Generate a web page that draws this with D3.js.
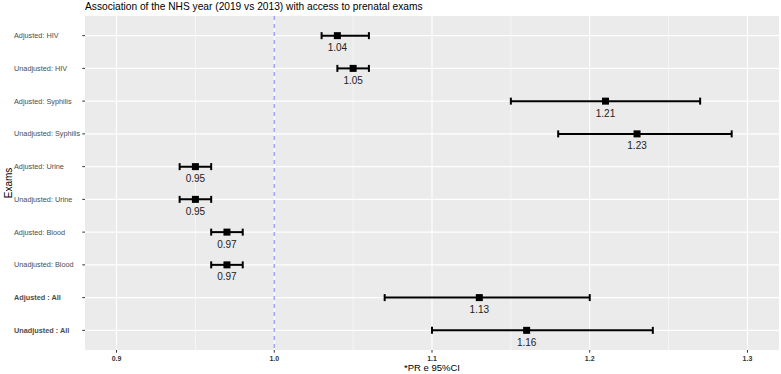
<!DOCTYPE html>
<html>
<head>
<meta charset="utf-8">
<script src="https://cdn.jsdelivr.net/npm/d3@7"></script>
<style>
  body { margin: 0; background: #fff; }
  text { font-family: "Liberation Sans", Arial, sans-serif; }
</style>
</head>
<body>
<div id="chart"></div>
<script>
// values
const exams = ["Adjusted: HIV", "Unadjusted: HIV", "Adjusted: Syphilis", "Unadjusted: Syphilis",
  "Adjusted: Urine", "Unadjusted: Urine", "Adjusted: Blood", "Unadjusted: Blood",
  "Adjusted : All", "Unadjusted : All"];
const boldLabels = ["Adjusted : All", "Unadjusted : All"];
const pr = [1.04, 1.05, 1.21, 1.23, 0.95, 0.95, 0.97, 0.97, 1.13, 1.16];
const lower = [1.03, 1.04, 1.15, 1.18, 0.94, 0.94, 0.96, 0.96, 1.07, 1.10];
const upper = [1.06, 1.06, 1.27, 1.29, 0.96, 0.96, 0.98, 0.98, 1.20, 1.24];
const xTicks = [0.9, 1.0, 1.1, 1.2, 1.3];
const xMinor = [0.95, 1.05, 1.15, 1.25];

const width = 781, height = 374;
const margin = { left: 85, right: 2, top: 16, bottom: 24 };

const rows = exams.map((e, i) => ({ exam: e, pr: pr[i], lo: lower[i], hi: upper[i] }));

const svg = d3.select("#chart").append("svg")
  .attr("width", width)
  .attr("height", height);

const x = d3.scaleLinear()
  .domain([0.88, 1.32])
  .range([margin.left, width - margin.right]);

const y = d3.scalePoint()
  .domain(exams)
  .range([margin.top, height - margin.bottom])
  .padding(0.6);

// panel background
svg.append("rect")
  .attr("x", margin.left).attr("y", margin.top)
  .attr("width", width - margin.left - margin.right)
  .attr("height", height - margin.top - margin.bottom)
  .attr("fill", "#ebebeb");

// grid
svg.append("g").selectAll("line")
  .data(xMinor)
  .join("line")
  .attr("x1", d => x(d)).attr("x2", d => x(d))
  .attr("y1", margin.top).attr("y2", height - margin.bottom)
  .attr("stroke", "#fff").attr("stroke-width", 0.55);

svg.append("g").selectAll("line")
  .data(xTicks)
  .join("line")
  .attr("x1", d => x(d)).attr("x2", d => x(d))
  .attr("y1", margin.top).attr("y2", height - margin.bottom)
  .attr("stroke", "#fff").attr("stroke-width", 1.1);

svg.append("g").selectAll("line")
  .data(exams)
  .join("line")
  .attr("x1", margin.left).attr("x2", width - margin.right)
  .attr("y1", d => y(d)).attr("y2", d => y(d))
  .attr("stroke", "#fff").attr("stroke-width", 1.1);

// reference line at 1
svg.append("line")
  .attr("x1", x(1)).attr("x2", x(1))
  .attr("y1", margin.top).attr("y2", height - margin.bottom)
  .attr("stroke", "#a6a6f7")
  .attr("stroke-width", 1.6)
  .attr("stroke-dasharray", "4,4");

// error bars
const g = svg.append("g");
g.selectAll("line.ci")
  .data(rows)
  .join("line")
  .attr("class", "ci")
  .attr("x1", d => x(d.lo)).attr("x2", d => x(d.hi))
  .attr("y1", d => y(d.exam)).attr("y2", d => y(d.exam))
  .attr("stroke", "#000").attr("stroke-width", 2);

["lo", "hi"].forEach(k => {
  g.selectAll("line.cap-" + k)
    .data(rows)
    .join("line")
    .attr("class", "cap-" + k)
    .attr("x1", d => x(d[k])).attr("x2", d => x(d[k]))
    .attr("y1", d => y(d.exam) - 3.5).attr("y2", d => y(d.exam) + 3.5)
    .attr("stroke", "#000").attr("stroke-width", 2);
});

g.selectAll("rect.pt")
  .data(rows)
  .join("rect")
  .attr("class", "pt")
  .attr("x", d => x(d.pr) - 3.5).attr("y", d => y(d.exam) - 3.5)
  .attr("width", 7).attr("height", 7)
  .attr("fill", "#000");

g.selectAll("text.val")
  .data(rows)
  .join("text")
  .attr("class", "val")
  .attr("x", d => x(d.pr))
  .attr("y", d => y(d.exam) + 15.5)
  .attr("text-anchor", "middle")
  .attr("font-size", 10)
  .attr("fill", "#222")
  .text(d => d.pr.toFixed(2));

// y axis
const yAxis = svg.append("g");
yAxis.selectAll("line")
  .data(exams)
  .join("line")
  .attr("x1", margin.left - 2.7).attr("x2", margin.left)
  .attr("y1", d => y(d)).attr("y2", d => y(d))
  .attr("stroke", "#333").attr("stroke-width", 1);
yAxis.selectAll("text")
  .data(exams)
  .join("text")
  .attr("x", 14)
  .attr("y", d => y(d))
  .attr("dy", "0.35em")
  .attr("font-size", 7.3)
  .attr("font-weight", d => boldLabels.includes(d) ? "bold" : "normal")
  .attr("fill", "#4d4d4d")
  .text(d => d);

// x axis
const xAxis = svg.append("g");
xAxis.selectAll("line")
  .data(xTicks)
  .join("line")
  .attr("x1", d => x(d)).attr("x2", d => x(d))
  .attr("y1", height - margin.bottom).attr("y2", height - margin.bottom + 2.7)
  .attr("stroke", "#333").attr("stroke-width", 1);
xAxis.selectAll("text")
  .data(xTicks)
  .join("text")
  .attr("x", d => x(d))
  .attr("y", height - margin.bottom + 11)
  .attr("text-anchor", "middle")
  .attr("font-size", 7)
  .attr("font-weight", "bold")
  .attr("fill", "#333")
  .text(d => d.toFixed(1));

// titles
svg.append("text")
  .attr("x", (margin.left + width - margin.right) / 2)
  .attr("y", height - 3)
  .attr("text-anchor", "middle")
  .attr("font-size", 9.5)
  .attr("fill", "#000")
  .text("*PR e 95%CI");

svg.append("text")
  .attr("transform", `translate(11.5,${(margin.top + height - margin.bottom) / 2}) rotate(-90)`)
  .attr("text-anchor", "middle")
  .attr("font-size", 10)
  .attr("fill", "#000")
  .text("Exams");

svg.append("text")
  .attr("x", margin.left)
  .attr("y", 10)
  .attr("font-size", 10.2)
  .attr("fill", "#000")
  .text("Association of the NHS year (2019 vs 2013) with access to prenatal exams");
</script>
</body>
</html>
